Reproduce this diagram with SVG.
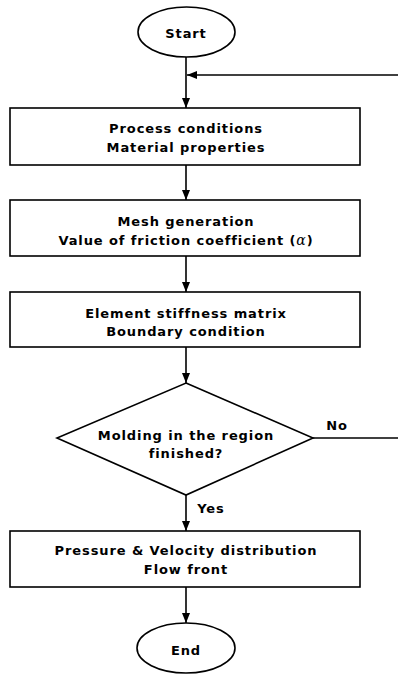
<svg xmlns="http://www.w3.org/2000/svg" width="398" height="675" viewBox="0 0 398 675">
<style>
.n{fill:#fff;stroke:#000;stroke-width:1.6}
.t{font-family:"DejaVu Sans",sans-serif;font-weight:bold;font-size:13px;letter-spacing:0.9px;text-anchor:middle;fill:#000}
.c{fill:none;stroke:#000;stroke-width:1.6}
</style>
<defs>
<marker id="ah" viewBox="0 0 10 8" refX="10" refY="4" markerWidth="10" markerHeight="8" markerUnits="userSpaceOnUse" orient="auto">
<path d="M0,0 L10,4 L0,8 Z" fill="#000"/>
</marker>
</defs>
<g id="connectors">
<path class="c" d="M186,57 V108" marker-end="url(#ah)"/>
<path class="c" d="M398,75 H187" marker-end="url(#ah)"/>
<path class="c" d="M186,165 V200" marker-end="url(#ah)"/>
<path class="c" d="M186,256 V292" marker-end="url(#ah)"/>
<path class="c" d="M186,347 V383" marker-end="url(#ah)"/>
<path class="c" d="M313,438 H398"/>
<path class="c" d="M186,495 V531" marker-end="url(#ah)"/>
<path class="c" d="M186,587 V623" marker-end="url(#ah)"/>
<text class="t" x="337" y="430">No</text>
<text class="t" x="211" y="513">Yes</text>
</g>
<g id="start">
<ellipse class="n" cx="186.5" cy="32" rx="48.5" ry="25"/>
<text class="t" x="186" y="38">Start</text>
</g>
<g id="box1">
<rect class="n" x="10" y="108" width="350" height="57"/>
<text class="t" x="186" y="133">Process conditions</text>
<text class="t" x="186" y="152">Material properties</text>
</g>
<g id="box2">
<rect class="n" x="10" y="200" width="350" height="56"/>
<text class="t" x="186" y="226">Mesh generation</text>
<text class="t" x="186" y="245">Value of friction coefficient (<tspan font-family="'DejaVu Serif',serif" font-style="italic" font-weight="normal" font-size="14px">α</tspan>)</text>
</g>
<g id="box3">
<rect class="n" x="10" y="292" width="350" height="55"/>
<text class="t" x="186" y="318">Element stiffness matrix</text>
<text class="t" x="186" y="336">Boundary condition</text>
</g>
<g id="decision">
<polygon class="n" points="186,383 313,438 186,495 57,438"/>
<text class="t" x="186" y="440">Molding in the region</text>
<text class="t" x="186" y="458">finished?</text>
</g>
<g id="box4">
<rect class="n" x="10" y="531" width="350" height="56"/>
<text class="t" x="186" y="555">Pressure &amp; Velocity distribution</text>
<text class="t" x="186" y="574">Flow front</text>
</g>
<g id="end">
<ellipse class="n" cx="186" cy="648" rx="49" ry="25"/>
<text class="t" x="186" y="655">End</text>
</g>
</svg>
